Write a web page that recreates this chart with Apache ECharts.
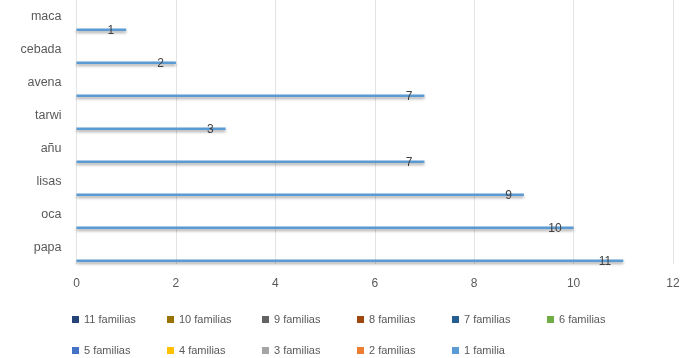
<!DOCTYPE html>
<html><head><meta charset="utf-8">
<script src="https://cdn.jsdelivr.net/npm/echarts@6/dist/echarts.min.js"></script>
<style>html,body{margin:0;padding:0;background:#fff}#c{width:683px;height:358px}</style>
</head><body><div id="c"></div>
<script>
const categories = ["papa","oca","lisas","añu","tarwi","avena","cebada","maca"];
const values1Familia = [11,10,9,7,3,7,2,1];
const seriesNames = ["11 familias","10 familias","9 familias","8 familias","7 familias","6 familias","5 familias","4 familias","3 familias","2 familias","1 familia"];
const seriesColors = ["#264478","#997300","#636363","#9E480E","#255E91","#70AD47","#4472C4","#FFC000","#A5A5A5","#ED7D31","#5B9BD5"];
const xTicks = {min:0, max:12, interval:2};
const legendRows = [["11 familias","10 familias","9 familias","8 familias","7 familias","6 familias"],["5 familias","4 familias","3 familias","2 familias","1 familia"]];

const font = "Liberation Sans, Arial, sans-serif";
const series = seriesNames.map((name, i) => ({
  name: name,
  type: 'bar',
  barGap: '0%',
  barCategoryGap: '12%',
  itemStyle: {
    color: seriesColors[i],
    shadowColor: 'rgba(0,0,0,0.35)', shadowBlur: 3, shadowOffsetY: 2
  },
  label: {
    show: true, position: 'insideRight', distance: 12, offset: [0, 1],
    color: '#404040', fontSize: 12, fontFamily: font
  },
  data: name === "1 familia" ? values1Familia : []
}));

const legendText = {color:'#595959', fontSize:11, fontFamily:font};
const legends = [];
legendRows.forEach((row, r) => row.forEach((name, k) => legends.push({
  left: 67 + 95*k, top: 309 + 31*r, itemWidth:7, itemHeight:7, itemGap:0,
  icon:'rect', textStyle: legendText, data: [name], selectedMode:false
})));

const chart = echarts.init(document.getElementById('c'));
chart.setOption({
  animation:false,
  color: seriesColors,
  grid:{left:76.5, right:10, top:0, bottom:94, containLabel:false},
  xAxis:{type:'value', min:xTicks.min, max:xTicks.max, interval:xTicks.interval,
    axisLine:{show:false}, axisTick:{show:false},
    axisLabel:{color:'#595959', fontSize:12, fontFamily:font, margin:14},
    splitLine:{lineStyle:{color:'#E4E4E4'}}},
  yAxis:{type:'category', data:categories,
    axisLine:{show:false}, axisTick:{show:false},
    axisLabel:{color:'#595959', fontSize:12.5, fontFamily:font, margin:15, verticalAlign:'middle'}},
  legend: legends,
  series: series
});
</script></body></html>
